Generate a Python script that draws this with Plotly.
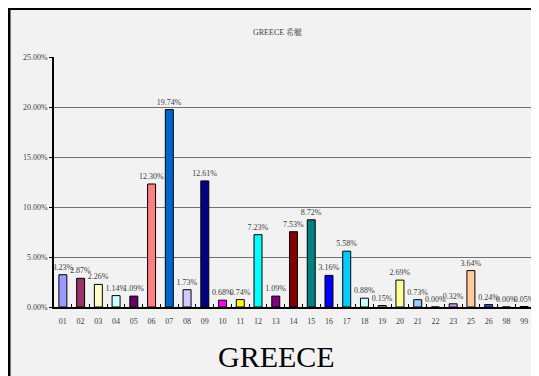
import plotly.graph_objects as go

categories = ["01", "02", "03", "04", "05", "06", "07", "08", "09", "10", "11", "12", "13",
              "14", "15", "16", "17", "18", "19", "20", "21", "22", "23", "25", "26", "98", "99"]
values = [3.23, 2.87, 2.26, 1.14, 1.09, 12.30, 19.74, 1.73, 12.61, 0.68, 0.74, 7.23, 1.09,
          7.53, 8.72, 3.16, 5.58, 0.88, 0.15, 2.69, 0.73, 0.00, 0.32, 3.64, 0.24, 0.00, 0.05]
bar_colors = ["#9999FF", "#993366", "#FFFFCC", "#CCFFFF", "#660066", "#FF8080", "#0066CC",
              "#CCCCFF", "#000080", "#FF00FF", "#FFFF00", "#00FFFF", "#800080", "#800000",
              "#008080", "#0000FF", "#00CCFF", "#CCFFFF", "#CCFFCC", "#FFFF99", "#99CCFF",
              "#FF99CC", "#CC99FF", "#FFCC99", "#3366FF", "#33CCCC", "#333333"]
y_ticks = [0, 5, 10, 15, 20, 25]
title_text = "GREECE 希臘"
bottom_text = "GREECE"

# the page body adds an 8px margin; figure pixel = screen pixel - 8
OFF = 8
W, H = 531, 368
L, R, T, B = 54 - OFF, 6, 57 - OFF, 69
pw, ph = W - L - R, H - T - B

def px(x):
    return (x - OFF - L) / pw

def py(y):
    return (H - B - (y - OFF)) / ph

serif = "Liberation Serif, Times New Roman, Noto Serif CJK TC, Noto Sans CJK TC, serif"

fig = go.Figure(go.Bar(
    x=categories, y=values,
    marker=dict(color=bar_colors, line=dict(color="black", width=1)),
    text=[f"{v:.2f}%" for v in values],
    textposition="outside", cliponaxis=False, constraintext="none",
    textfont=dict(family=serif, size=8, color="#404040"),
    hoverinfo="skip",
))

fig.update_layout(
    width=W, height=H,
    margin=dict(l=L, r=R, t=T, b=B),
    paper_bgcolor="#f2f2f2", plot_bgcolor="#f2f2f2",
    bargap=0.55, showlegend=False,
    font=dict(family=serif, size=8, color="#404040"),
    xaxis=dict(type="category", showgrid=False, showline=True, linecolor="black", linewidth=1.5,
               ticks="inside", tickson="boundaries", ticklen=3, tickcolor="black",
               tickfont=dict(family=serif, size=8, color="#404040"), ticklabelstandoff=6),
    yaxis=dict(range=[0, 25], tickvals=y_ticks, ticktext=[f"{t:.2f}%" for t in y_ticks],
               showgrid=True, gridcolor="#707070", gridwidth=1,
               showline=True, linecolor="black", linewidth=1.5, zeroline=False,
               ticks="outside", ticklen=3, tickcolor="black",
               tickfont=dict(family=serif, size=8, color="#404040")),
    shapes=[
        # right border of plot area
        dict(type="line", xref="paper", yref="paper", x0=1, x1=1, y0=0, y1=1,
             line=dict(color="#707070", width=1)),
        # black frame at left and top
        dict(type="rect", xref="paper", yref="paper", x0=px(8), x1=px(10.5), y0=py(376), y1=py(8),
             fillcolor="black", line=dict(width=0), layer="above"),
        dict(type="rect", xref="paper", yref="paper", x0=px(8), x1=px(539), y0=py(10), y1=py(8),
             fillcolor="black", line=dict(width=0), layer="above"),
    ],
    annotations=[
        dict(text=title_text, xref="paper", yref="paper", x=px(277), y=py(32),
             xanchor="center", yanchor="middle", showarrow=False,
             font=dict(family=serif, size=8, color="#404040")),
        dict(text=bottom_text, xref="paper", yref="paper", x=px(276), y=py(356),
             xanchor="center", yanchor="middle", showarrow=False,
             font=dict(family=serif, size=30, color="black")),
    ],
)

fig.write_html("out.html")
